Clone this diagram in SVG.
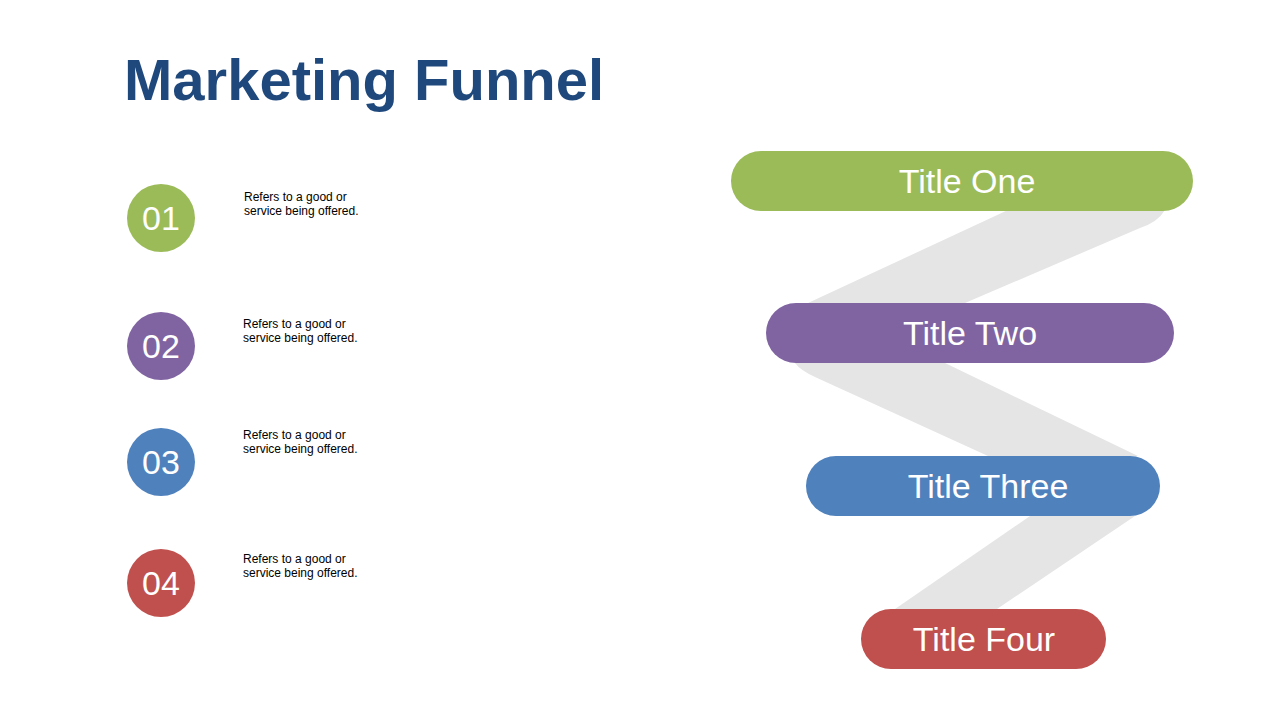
<svg xmlns="http://www.w3.org/2000/svg" width="1280" height="720" viewBox="0 0 1280 720">
<style>
.t{font-family:"Liberation Sans",Arial,sans-serif;fill:#fff;text-anchor:middle}
.p{font-size:34px}
.n{font-size:34px}
.d{font-family:"Liberation Sans",Arial,sans-serif;font-size:12px;fill:#000}
.band{fill:#e5e5e5}
</style>
<rect width="1280" height="720" fill="#fff"/>
<text x="124" y="100" font-family="Liberation Sans,Arial,sans-serif" font-weight="bold" font-size="58" fill="#1f497d">Marketing Funnel</text>
<g id="connectors">
<path class="band" d="M1008,210 L1165,210 Q1158,222 1140,228 L965,303 L808,303 Z"/>
<path class="band" d="M795,363 L945,363 L1138,456 L988,456 L815,377 Q800,370 795,363 Z"/>
<path class="band" d="M1030,516 L1135,516 L997,609 L895,609 Z"/>
</g>
<g id="pill1"><rect x="731" y="151" width="462" height="60" rx="30" fill="#9bbb59"/><text class="t p" x="967" y="193">Title One</text></g>
<g id="pill2"><rect x="766" y="303" width="408" height="60" rx="30" fill="#8064a2"/><text class="t p" x="970" y="345">Title Two</text></g>
<g id="pill3"><rect x="806" y="456" width="354" height="60" rx="30" fill="#4f81bd"/><text class="t p" x="988" y="498">Title Three</text></g>
<g id="pill4"><rect x="861" y="609" width="245" height="60" rx="30" fill="#c0504d"/><text class="t p" x="984" y="651">Title Four</text></g>
<g id="item1"><circle cx="161" cy="218" r="34" fill="#9bbb59"/><text class="t n" x="161" y="230">01</text><text class="d" x="244" y="201">Refers to a good or</text><text class="d" x="244" y="215">service being offered.</text></g>
<g id="item2"><circle cx="161" cy="346" r="34" fill="#8064a2"/><text class="t n" x="161" y="358">02</text><text class="d" x="243" y="328">Refers to a good or</text><text class="d" x="243" y="342">service being offered.</text></g>
<g id="item3"><circle cx="161" cy="462" r="34" fill="#4f81bd"/><text class="t n" x="161" y="474">03</text><text class="d" x="243" y="439">Refers to a good or</text><text class="d" x="243" y="453">service being offered.</text></g>
<g id="item4"><circle cx="161" cy="583" r="34" fill="#c0504d"/><text class="t n" x="161" y="595">04</text><text class="d" x="243" y="563">Refers to a good or</text><text class="d" x="243" y="577">service being offered.</text></g>
</svg>
